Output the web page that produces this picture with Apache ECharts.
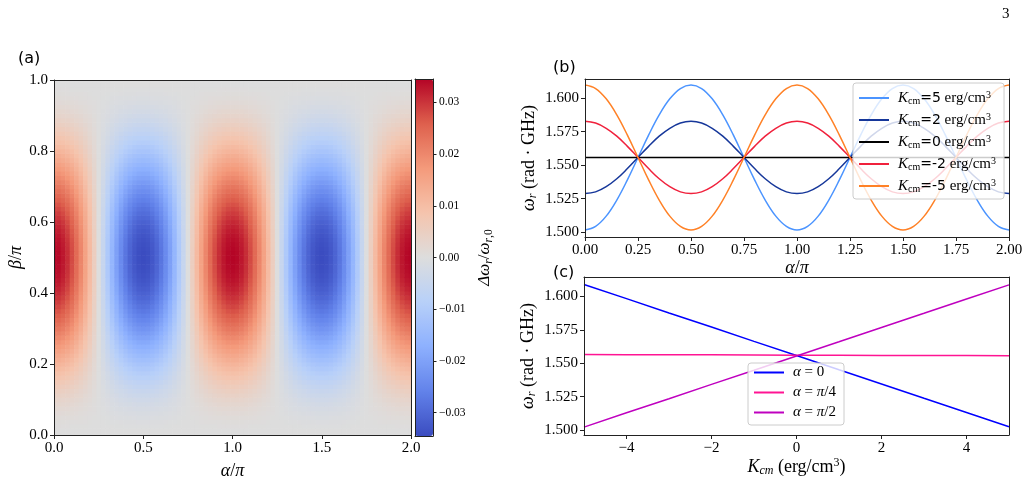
<!DOCTYPE html>
<html><head><meta charset="utf-8">
<script src="https://cdn.jsdelivr.net/npm/echarts@6/dist/echarts.min.js"></script>
<style>html,body{margin:0;padding:0;background:#fff}#c{width:1028px;height:485px}</style>
</head><body><div id="c"></div>
<script>
// ---------- DATA ----------
// (a) heat map: normalized shape along alpha (alpha/pi = 0..2, 81 samples) and beta (beta/pi = 0..1, 81 samples)
const heatPeak = 0.0345;
const alphaShape = [1,0.988,0.951,0.891,0.809,0.707,0.588,0.454,0.309,0.156,0,-0.156,-0.309,-0.454,-0.588,-0.707,-0.809,-0.891,-0.951,-0.988,-1,-0.988,-0.951,-0.891,-0.809,-0.707,-0.588,-0.454,-0.309,-0.156,0,0.156,0.309,0.454,0.588,0.707,0.809,0.891,0.951,0.988,1,0.988,0.951,0.891,0.809,0.707,0.588,0.454,0.309,0.156,0,-0.156,-0.309,-0.454,-0.588,-0.707,-0.809,-0.891,-0.951,-0.988,-1,-0.988,-0.951,-0.891,-0.809,-0.707,-0.588,-0.454,-0.309,-0.156,0,0.156,0.309,0.454,0.588,0.707,0.809,0.891,0.951,0.988,1];
const betaShape = [0,0.002,0.006,0.014,0.024,0.038,0.054,0.074,0.095,0.120,0.146,0.175,0.206,0.239,0.273,0.309,0.345,0.383,0.422,0.461,0.500,0.539,0.578,0.617,0.655,0.691,0.727,0.761,0.794,0.825,0.854,0.880,0.905,0.926,0.946,0.962,0.976,0.986,0.994,0.998,1.000,0.998,0.994,0.986,0.976,0.962,0.946,0.926,0.905,0.880,0.854,0.825,0.794,0.761,0.727,0.691,0.655,0.617,0.578,0.539,0.500,0.461,0.422,0.383,0.345,0.309,0.273,0.239,0.206,0.175,0.146,0.120,0.095,0.074,0.054,0.038,0.024,0.014,0.006,0.002,0];
const heatXRange = [0, 2];
const heatYRange = [0, 1];
const heatXTicks = [0, 0.5, 1.0, 1.5, 2.0];
const heatYTicks = [0, 0.2, 0.4, 0.6, 0.8, 1.0];
const cbarRange = [-0.0345, 0.0345];
const cbarTicks = [-0.03, -0.02, -0.01, 0, 0.01, 0.02, 0.03];

// (b) omega_r vs alpha/pi
const alphaB = [0,0.05,0.1,0.15,0.2,0.25,0.3,0.35,0.4,0.45,0.5,0.55,0.6,0.65,0.7,0.75,0.8,0.85,0.9,0.95,1.0,1.05,1.1,1.15,1.2,1.25,1.3,1.35,1.4,1.45,1.5,1.55,1.6,1.65,1.7,1.75,1.8,1.85,1.9,1.95,2.0];
const wK5  = [1.5016,1.5043,1.5119,1.5239,1.5390,1.5557,1.5724,1.5875,1.5995,1.6072,1.6098,1.6072,1.5995,1.5875,1.5724,1.5557,1.5390,1.5239,1.5119,1.5043,1.5016,1.5043,1.5119,1.5239,1.5390,1.5557,1.5724,1.5875,1.5995,1.6072,1.6098,1.6072,1.5995,1.5875,1.5724,1.5557,1.5390,1.5239,1.5119,1.5043,1.5016];
const wK2  = [1.5287,1.5300,1.5339,1.5398,1.5474,1.5557,1.5640,1.5716,1.5775,1.5814,1.5827,1.5814,1.5775,1.5716,1.5640,1.5557,1.5474,1.5398,1.5339,1.5300,1.5287,1.5300,1.5339,1.5398,1.5474,1.5557,1.5640,1.5716,1.5775,1.5814,1.5827,1.5814,1.5775,1.5716,1.5640,1.5557,1.5474,1.5398,1.5339,1.5300,1.5287];
const wK0  = [1.5557,1.5557,1.5557,1.5557,1.5557,1.5557,1.5557,1.5557,1.5557,1.5557,1.5557,1.5557,1.5557,1.5557,1.5557,1.5557,1.5557,1.5557,1.5557,1.5557,1.5557,1.5557,1.5557,1.5557,1.5557,1.5557,1.5557,1.5557,1.5557,1.5557,1.5557,1.5557,1.5557,1.5557,1.5557,1.5557,1.5557,1.5557,1.5557,1.5557,1.5557];
const wKm2 = [1.5827,1.5814,1.5775,1.5716,1.5640,1.5557,1.5474,1.5398,1.5339,1.5300,1.5287,1.5300,1.5339,1.5398,1.5474,1.5557,1.5640,1.5716,1.5775,1.5814,1.5827,1.5814,1.5775,1.5716,1.5640,1.5557,1.5474,1.5398,1.5339,1.5300,1.5287,1.5300,1.5339,1.5398,1.5474,1.5557,1.5640,1.5716,1.5775,1.5814,1.5827];
const wKm5 = [1.6098,1.6072,1.5995,1.5875,1.5724,1.5557,1.5390,1.5239,1.5119,1.5043,1.5016,1.5043,1.5119,1.5239,1.5390,1.5557,1.5724,1.5875,1.5995,1.6072,1.6098,1.6072,1.5995,1.5875,1.5724,1.5557,1.5390,1.5239,1.5119,1.5043,1.5016,1.5043,1.5119,1.5239,1.5390,1.5557,1.5724,1.5875,1.5995,1.6072,1.6098];
const bXTicks = [0,0.25,0.5,0.75,1.0,1.25,1.5,1.75,2.0];
const bYTicks = [1.5,1.525,1.55,1.575,1.6];
const bYRange = [1.4963, 1.6143];

// (c) omega_r vs K_cm
const kC = [-5,-4,-3,-2,-1,0,1,2,3,4,5];
const wA0   = [1.6090,1.5984,1.5877,1.5771,1.5664,1.5558,1.5451,1.5345,1.5238,1.5132,1.5025];
const wApi4 = [1.5565,1.5564,1.5563,1.5563,1.5562,1.5561,1.5560,1.5559,1.5559,1.5558,1.5557];
const wApi2 = [1.5022,1.5129,1.5235,1.5342,1.5448,1.5555,1.5661,1.5768,1.5874,1.5981,1.6087];
const cXTicks = [-4,-2,0,2,4];
const cYTicks = [1.5,1.525,1.55,1.575,1.6];
const cYRange = [1.4963, 1.6146];

// ---------- STYLE ----------
const serif = "'Liberation Serif','DejaVu Serif',serif";
const sans = "'DejaVu Sans','Noto Sans',sans-serif";
const coolwarm = ['#3b4cc0','#6282ea','#8db0fe','#b8d0f9','#dddddd','#f5c4ad','#f49a7b','#de604d','#b40426'];
const frameCol = '#222';
const minus = s => String(s).replace('-', '\u2212');
const tickFont = {fontFamily: serif, fontSize: 15, color: '#000'};

const heatData = [];
betaShape.forEach((b, j) => alphaShape.forEach((a, i) => {
  heatData.push([heatXRange[0] + i * (heatXRange[1]-heatXRange[0]) / (alphaShape.length - 1),
                 heatYRange[0] + j * (heatYRange[1]-heatYRange[0]) / (betaShape.length - 1),
                 heatPeak * a * b]);
}));
const halfDX = (heatXRange[1]-heatXRange[0]) / (alphaShape.length - 1) / 2;
const halfDY = (heatYRange[1]-heatYRange[0]) / (betaShape.length - 1) / 2;
const clamp = (v, r) => Math.max(r[0], Math.min(r[1], v));
const pairs = (xs, ys) => xs.map((x, i) => [x, ys[i]]);

function mainX(grid, range, ticks, fmt, name, gap, extra) {
  return Object.assign({
    gridIndex: grid, type: 'value', min: range[0], max: range[1], position: 'bottom', z: 6,
    axisLine: {show: true, onZero: false, lineStyle: {color: frameCol, width: 1}},
    axisTick: {show: true, customValues: ticks, length: 4, lineStyle: {color: frameCol, width: 1}},
    axisLabel: Object.assign({customValues: ticks, formatter: fmt, margin: 6}, tickFont),
    splitLine: {show: false},
    name: name, nameLocation: 'middle', nameGap: gap
  }, extra || {});
}
function lineOnlyX(grid, range) {
  return {gridIndex: grid, type: 'value', min: range[0], max: range[1], position: 'top', z: 6,
    axisLine: {show: true, onZero: false, lineStyle: {color: frameCol, width: 1}},
    axisTick: {show: false}, axisLabel: {show: false}, splitLine: {show: false}};
}
function mainY(grid, range, ticks, fmt, name, gap, extra, pos) {
  return Object.assign({
    gridIndex: grid, type: 'value', min: range[0], max: range[1], position: pos || 'left', z: 6,
    axisLine: {show: true, onZero: false, lineStyle: {color: frameCol, width: 1}},
    axisTick: {show: true, customValues: ticks, length: 4, lineStyle: {color: frameCol, width: 1}},
    axisLabel: Object.assign({customValues: ticks, formatter: fmt, margin: 6}, tickFont),
    splitLine: {show: false},
    name: name, nameLocation: 'middle', nameGap: gap
  }, extra || {});
}
function lineOnlyY(grid, range, pos) {
  return {gridIndex: grid, type: 'value', min: range[0], max: range[1], position: pos || 'right', z: 6,
    axisLine: {show: true, onZero: false, lineStyle: {color: frameCol, width: 1}},
    axisTick: {show: false}, axisLabel: {show: false}, splitLine: {show: false}};
}

const richName = {
  i: {fontFamily: serif, fontStyle: 'italic', fontSize: 18, lineHeight: 20, color: '#000'},
  n: {fontFamily: serif, fontSize: 18, lineHeight: 20, color: '#000'},
  s: {fontFamily: serif, fontStyle: 'italic', fontSize: 12, lineHeight: 12, verticalAlign: 'bottom', color: '#000'},
  sr: {fontFamily: serif, fontSize: 12, lineHeight: 12, verticalAlign: 'bottom', color: '#000'},
  p: {fontFamily: serif, fontSize: 12, lineHeight: 12, verticalAlign: 'top', color: '#000'}
};
const richCbar = {
  i: {fontFamily: serif, fontStyle: 'italic', fontSize: 17, lineHeight: 20, color: '#000'},
  n: {fontFamily: serif, fontSize: 17, lineHeight: 20, color: '#000'},
  s: {fontFamily: serif, fontStyle: 'italic', fontSize: 11.5, lineHeight: 12, verticalAlign: 'bottom', color: '#000'},
  sr: {fontFamily: serif, fontSize: 11.5, lineHeight: 12, verticalAlign: 'bottom', color: '#000'}
};

const legendRich = {
  k: {fontFamily: serif, fontStyle: 'italic', fontSize: 15, lineHeight: 16, color: '#000'},
  s: {fontFamily: serif, fontSize: 10, lineHeight: 10, verticalAlign: 'bottom', color: '#000'},
  e: {fontFamily: sans, fontSize: 14, lineHeight: 16, color: '#000'},
  n: {fontFamily: serif, fontSize: 15, lineHeight: 16, color: '#000'},
  p: {fontFamily: serif, fontSize: 10, lineHeight: 10, verticalAlign: 'top', color: '#000'}
};
const legendB = {
  K5: '{k|K}{s|cm}{e|=5}{n| erg/cm}{p|3}',
  K2: '{k|K}{s|cm}{e|=2}{n| erg/cm}{p|3}',
  K0: '{k|K}{s|cm}{e|=0}{n| erg/cm}{p|3}',
  Km2: '{k|K}{s|cm}{e|=-2}{n| erg/cm}{p|3}',
  Km5: '{k|K}{s|cm}{e|=-5}{n| erg/cm}{p|3}'
};
const legendC = {
  a0: '{k|α}{n| = 0}',
  a1: '{k|α}{n| = }{k|π}{n|/4}',
  a2: '{k|α}{n| = }{k|π}{n|/2}'
};
const legendCommon = {
  orient: 'vertical', itemWidth: 30, itemHeight: 14, selectedMode: false,
  backgroundColor: 'rgba(255,255,255,0.8)', borderColor: '#cccccc', borderWidth: 1, borderRadius: 3,
  itemStyle: {opacity: 0},
  textStyle: {rich: legendRich, padding: [0, 0, 0, 4]}
};

const option = {
  animation: false,
  backgroundColor: '#fff',
  grid: [
    {left: 54, top: 80, width: 357, height: 355},
    {left: 415, top: 79, width: 18, height: 357},
    {left: 585, top: 79, width: 424, height: 158},
    {left: 584, top: 277, width: 425, height: 158}
  ],
  xAxis: [
    mainX(0, heatXRange, heatXTicks, v => v.toFixed(1), '{i|α}{n|/}{i|π}', 26, {nameTextStyle: {rich: richName}}),
    lineOnlyX(0, heatXRange),
    {gridIndex: 1, type: 'value', min: 0, max: 1, show: true, position: 'bottom', z: 6,
     axisLine: {show: true, onZero: false, lineStyle: {color: frameCol, width: 1}}, axisTick: {show: false}, axisLabel: {show: false}, splitLine: {show: false}},
    lineOnlyX(1, [0, 1]),
    mainX(2, [0, 2], bXTicks, v => v.toFixed(2), '{i|α}{n|/}{i|π}', 15, {nameTextStyle: {rich: richName}}),
    lineOnlyX(2, [0, 2]),
    mainX(3, [-5, 5], cXTicks, v => minus(v), '{i|K}{s|cm}{n| (erg/cm}{p|3}{n|)}', 17, {nameTextStyle: {rich: richName}}),
    lineOnlyX(3, [-5, 5])
  ],
  yAxis: [
    mainY(0, heatYRange, heatYTicks, v => v.toFixed(1), '{i|β}{n|/}{i|π}', 26, {nameTextStyle: {rich: richName}}),
    lineOnlyY(0, heatYRange, 'right'),
    mainY(1, cbarRange, cbarTicks, v => minus(v.toFixed(2)), '{i|Δω}{s|r}{n|/}{i|ω}{s|r}{sr|,0}', 42,
      {nameRotate: 90, axisLabel: {customValues: cbarTicks, formatter: v => minus(v.toFixed(2)), margin: 6, fontFamily: serif, fontSize: 11.5, color: '#000'},
       axisTick: {show: true, customValues: cbarTicks, length: 3.5, lineStyle: {color: frameCol, width: 1}},
       nameTextStyle: {fontSize: 17, rich: richCbar}}, 'right'),
    lineOnlyY(1, cbarRange, 'left'),
    mainY(2, bYRange, bYTicks, v => v.toFixed(3), '{i|ω}{s|r}{n| (rad · GHz)}', 46, {nameTextStyle: {rich: richName}}),
    lineOnlyY(2, bYRange, 'right'),
    mainY(3, cYRange, cYTicks, v => v.toFixed(3), '{i|ω}{s|r}{n| (rad · GHz)}', 46, {nameTextStyle: {rich: richName}}),
    lineOnlyY(3, cYRange, 'right')
  ],
  visualMap: [{
    type: 'continuous', seriesIndex: 0, dimension: 2, min: cbarRange[0], max: cbarRange[1],
    calculable: false, hoverLink: false, left: 415, top: 79, itemWidth: 18, itemHeight: 357, padding: 0,
    inRange: {color: coolwarm}, textStyle: {color: 'transparent'}, text: ['', '']
  }],
  legend: [
    Object.assign({}, legendCommon, {data: ['K5','K2','K0','Km2','Km5'], left: 853, top: 83, padding: [7, 8, 5, 5], itemGap: 6,
      formatter: n => legendB[n]}),
    Object.assign({}, legendCommon, {data: ['a0','a1','a2'], left: 748, top: 363, padding: [2, 8, 5, 5], itemGap: 5,
      formatter: n => legendC[n]})
  ],
  series: [
    {type: 'custom', xAxisIndex: 0, yAxisIndex: 0, data: heatData, encode: {x: 0, y: 1}, silent: true,
     renderItem: (params, api) => {
       const x = api.value(0), y = api.value(1);
       const p0 = api.coord([clamp(x - halfDX, heatXRange), clamp(y + halfDY, heatYRange)]);
       const p1 = api.coord([clamp(x + halfDX, heatXRange), clamp(y - halfDY, heatYRange)]);
       return {type: 'rect', shape: {x: p0[0], y: p0[1], width: p1[0] - p0[0] + 0.6, height: p1[1] - p0[1] + 0.6},
               style: {fill: api.visual('color')}};
     }},
    {name: 'K5', type: 'line', xAxisIndex: 4, yAxisIndex: 4, data: pairs(alphaB, wK5), smooth: 0.4, symbol: 'none', lineStyle: {color: '#4b94ff', width: 1.5}, itemStyle: {color: '#4b94ff'}},
    {name: 'K2', type: 'line', xAxisIndex: 4, yAxisIndex: 4, data: pairs(alphaB, wK2), smooth: 0.4, symbol: 'none', lineStyle: {color: '#16379a', width: 1.5}, itemStyle: {color: '#16379a'}},
    {name: 'K0', type: 'line', xAxisIndex: 4, yAxisIndex: 4, data: pairs(alphaB, wK0), symbol: 'none', lineStyle: {color: '#000000', width: 1.5}, itemStyle: {color: '#000000'}},
    {name: 'Km2', type: 'line', xAxisIndex: 4, yAxisIndex: 4, data: pairs(alphaB, wKm2), smooth: 0.4, symbol: 'none', lineStyle: {color: '#f0213c', width: 1.5}, itemStyle: {color: '#f0213c'}},
    {name: 'Km5', type: 'line', xAxisIndex: 4, yAxisIndex: 4, data: pairs(alphaB, wKm5), smooth: 0.4, symbol: 'none', lineStyle: {color: '#ff8126', width: 1.5}, itemStyle: {color: '#ff8126'}},
    {name: 'a0', type: 'line', xAxisIndex: 6, yAxisIndex: 6, data: pairs(kC, wA0), symbol: 'none', lineStyle: {color: '#0000ff', width: 1.5}, itemStyle: {color: '#0000ff'}},
    {name: 'a1', type: 'line', xAxisIndex: 6, yAxisIndex: 6, data: pairs(kC, wApi4), symbol: 'none', lineStyle: {color: '#ff1493', width: 1.5}, itemStyle: {color: '#ff1493'}},
    {name: 'a2', type: 'line', xAxisIndex: 6, yAxisIndex: 6, data: pairs(kC, wApi2), symbol: 'none', lineStyle: {color: '#bf00bf', width: 1.5}, itemStyle: {color: '#bf00bf'}}
  ],
  graphic: [
    {type: 'text', left: 18, top: 51, style: {text: '(a)', font: "16px 'DejaVu Sans'", fill: '#000'}},
    {type: 'text', left: 553, top: 60, style: {text: '(b)', font: "16px 'DejaVu Sans'", fill: '#000'}},
    {type: 'text', left: 553, top: 265, style: {text: '(c)', font: "16px 'DejaVu Sans'", fill: '#000'}},
    {type: 'text', left: 1002, top: 7, style: {text: '3', font: "15px 'Liberation Serif'", fill: '#000'}}
  ]
};
const chart = echarts.init(document.getElementById('c'), null, {renderer: 'canvas'});
chart.setOption(option);
</script>
</body></html>
